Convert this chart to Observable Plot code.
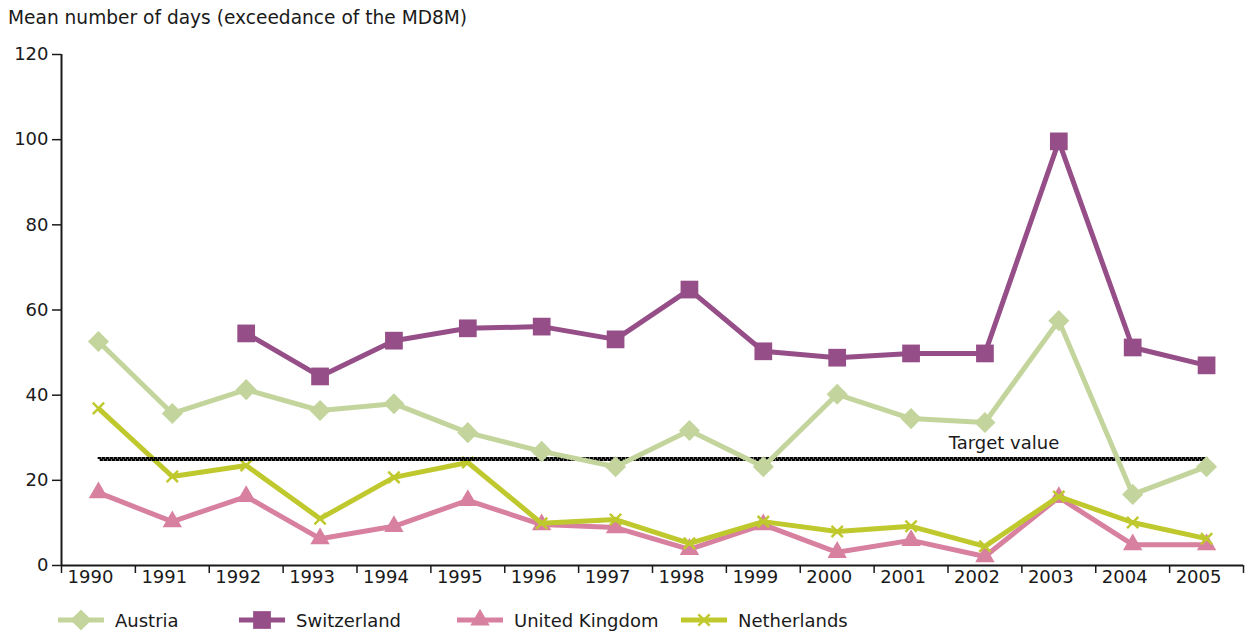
<!DOCTYPE html>
<html>
<head>
<meta charset="utf-8">
<script src="https://cdn.jsdelivr.net/npm/d3@7"></script>
<script src="https://cdn.jsdelivr.net/npm/@observablehq/plot@0.6"></script>
<style>
  html, body { margin: 0; padding: 0; background: #fff; }
  body { width: 1248px; height: 632px; position: relative; overflow: hidden; font-family: "DejaVu Sans", sans-serif; color: #1a1a1a; }
  #title { position: absolute; left: 8px; top: 6px; font-size: 18.6px; line-height: 24px; white-space: nowrap; }
  #chart { position: absolute; left: 0; top: 36px; }
  .leg { position: absolute; top: 608px; height: 24px; display: flex; align-items: center; font-size: 18px; white-space: nowrap; }
  .leg svg { margin-right: 11px; }
</style>
</head>
<body>
<div id="title">Mean number of days (exceedance of the MD8M)</div>
<div id="chart"></div>
<div id="legend"></div>
<script>
const years = [1990, 1991, 1992, 1993, 1994, 1995, 1996, 1997, 1998, 1999, 2000, 2001, 2002, 2003, 2004, 2005];
const austria = [52.6, 35.7, 41.3, 36.4, 38.0, 31.2, 26.8, 23.2, 31.7, 23.2, 40.2, 34.5, 33.6, 57.5, 16.7, 23.2];
const switzerland = [null, null, 54.5, 44.4, 52.8, 55.7, 56.1, 53.1, 64.8, 50.3, 48.8, 49.8, 49.8, 99.6, 51.2, 47.0];
const unitedKingdom = [17.1, 10.3, 16.2, 6.3, 9.2, 15.3, 9.6, 8.9, 3.8, 9.6, 3.1, 5.9, 2.1, 16.0, 4.9, 4.9];
const netherlands = [36.9, 20.9, 23.5, 11.0, 20.7, 24.2, 9.9, 10.8, 5.2, 10.3, 8.0, 9.2, 4.5, 16.2, 10.1, 6.3];
const targetValue = 25;
const yTicks = [0, 20, 40, 60, 80, 100, 120];
const seriesNames = ["Austria", "Switzerland", "United Kingdom", "Netherlands"];
const colors = ["#c3d59c", "#954e87", "#d8809f", "#bfc92e"];
const symbols = ["diamond2", "square", "triangle", "times"];

const seriesValues = [austria, switzerland, unitedKingdom, netherlands];
const series = seriesNames.map((name, i) => ({
  name, color: colors[i], symbol: symbols[i],
  data: years.map((year, j) => ({year, value: seriesValues[i][j]})).filter(d => d.value != null)
}));
const bounds = [...years.map(y => y - 0.5), years[years.length - 1] + 0.5];
const target = [{year: years[0], value: targetValue}, {year: years[years.length - 1], value: targetValue}];

const dotOpts = {
  diamond2: {r: 9.5},
  square: {r: 10},
  triangle: {r: 7.2},
  times: {r: 5.2}
};

function seriesMarks(s) {
  const marks = [Plot.line(s.data, {x: "year", y: "value", stroke: s.color, strokeWidth: 5, strokeLinejoin: "miter", strokeLinecap: "butt"})];
  if (s.symbol === "times") {
    marks.push(Plot.dot(s.data, {x: "year", y: "value", symbol: "times", stroke: s.color, strokeWidth: 2.5, r: dotOpts.times.r}));
  } else {
    marks.push(Plot.dot(s.data, {x: "year", y: "value", symbol: s.symbol, fill: s.color, stroke: "none", r: dotOpts[s.symbol].r}));
  }
  return marks;
}

const chart = Plot.plot({
  width: 1248,
  height: 562,
  marginLeft: 61,
  marginRight: 5,
  marginTop: 18,
  marginBottom: 33,
  style: {fontFamily: "DejaVu Sans, sans-serif", fontSize: "18px", color: "#1a1a1a", background: "transparent"},
  x: {domain: [bounds[0], bounds[bounds.length - 1]], axis: null},
  y: {domain: [0, 120], axis: null},
  marks: [
    Plot.axisY({ticks: yTicks, tickSize: 9, tickPadding: 4, tickFormat: d => String(d), label: null, strokeWidth: 1.5, fontSize: 18}),
    Plot.axisX({ticks: bounds, tickSize: 8, tickFormat: () => "", label: null, strokeWidth: 1.5}),
    Plot.axisX({ticks: years, tickSize: 0, tickPadding: 5, dx: -8, tickFormat: d => String(d), label: null, fontSize: 18}),
    Plot.ruleX([bounds[0]], {stroke: "#1a1a1a", strokeWidth: 2}),
    Plot.ruleY([0], {stroke: "#1a1a1a", strokeWidth: 2}),
    ...seriesMarks(series[2]),
    ...seriesMarks(series[3]),
    Plot.line(target, {x: "year", y: "value", stroke: "#000", strokeWidth: 2, strokeDasharray: "2,2", dy: -1}),
    Plot.line(target, {x: "year", y: "value", stroke: "#000", strokeWidth: 2, strokeDasharray: "2,2", strokeDashoffset: 2, dy: 1}),
    ...seriesMarks(series[0]),
    ...seriesMarks(series[1]),
    Plot.text([{year: 2002, value: targetValue, label: "Target value"}], {x: "year", y: "value", text: "label", dx: 19, dy: -16, fontSize: 18, fill: "#1a1a1a", textAnchor: "middle"})
  ]
});
document.getElementById("chart").appendChild(chart);

// Legend
const legendLefts = [58, 239, 457, 681];
const legend = document.getElementById("legend");
series.forEach((s, i) => {
  const item = document.createElement("div");
  item.className = "leg";
  item.style.left = legendLefts[i] + "px";
  const svg = d3.create("svg").attr("width", 46).attr("height", 24);
  svg.append("line").attr("x1", 0).attr("x2", 46).attr("y1", 12).attr("y2", 12).attr("stroke", s.color).attr("stroke-width", 5);
  const r = dotOpts[s.symbol].r;
  const symType = {diamond2: d3.symbolDiamond2, square: d3.symbolSquare, triangle: d3.symbolTriangle, times: d3.symbolTimes}[s.symbol];
  const p = svg.append("path").attr("transform", "translate(23,12)").attr("d", d3.symbol(symType, r * r * Math.PI)());
  if (s.symbol === "times") p.attr("fill", "none").attr("stroke", s.color).attr("stroke-width", 2.5);
  else p.attr("fill", s.color);
  item.appendChild(svg.node());
  const span = document.createElement("span");
  span.textContent = s.name;
  item.appendChild(span);
  legend.appendChild(item);
});
</script>
</body>
</html>
